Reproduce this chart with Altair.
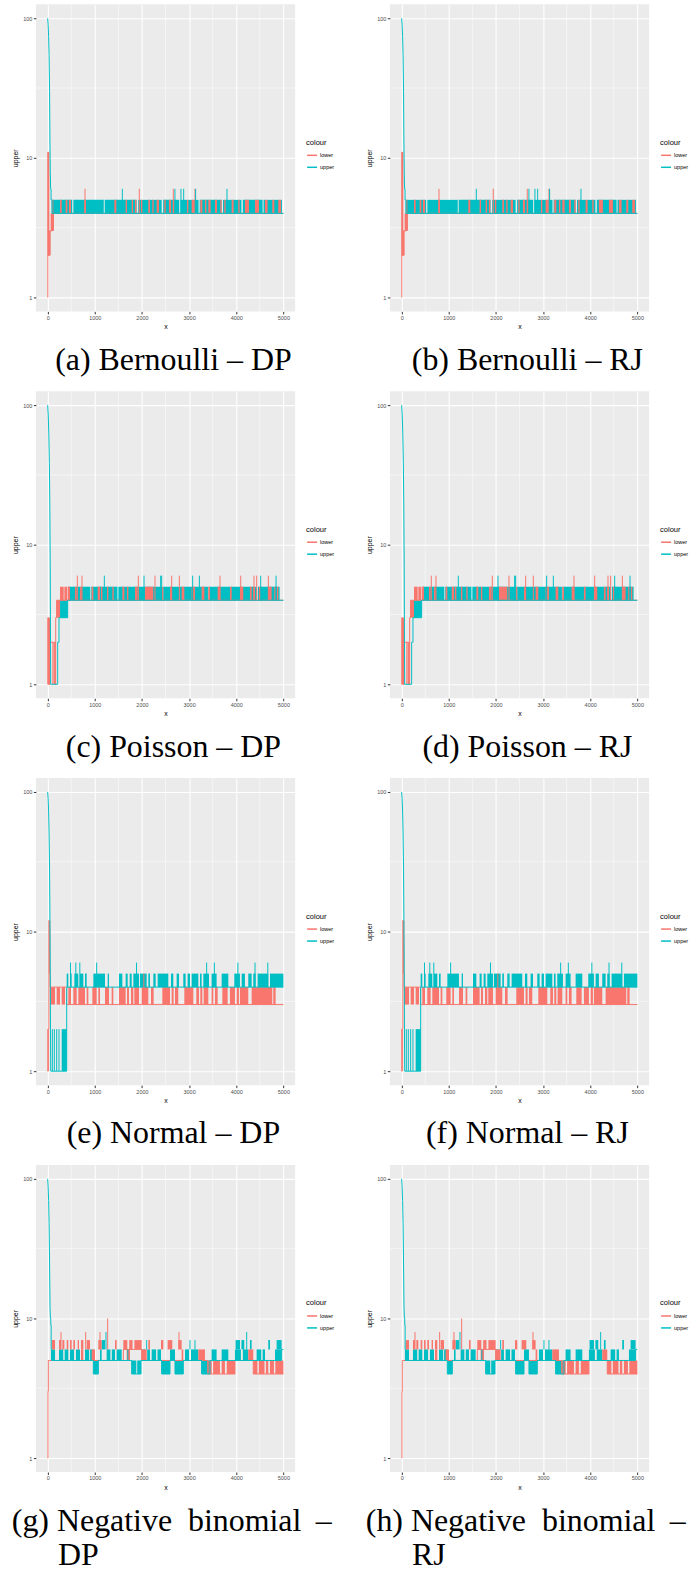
import altair as alt
import pandas as pd

LOWER_COLOR = "#F8766D"
UPPER_COLOR = "#00BFC4"
X_TICKS = [0, 1000, 2000, 3000, 4000, 5000]
X_MINOR = [500, 1500, 2500, 3500, 4500]
Y_TICKS = [1, 10, 100]
Y_MINOR = [3.1623, 31.623]

# ---------------- Bernoulli ----------------
bern_lower_line = [(0, 1), (3, 1), (3, 11), (14, 11), (14, 2), (40, 2), (40, 3), (100, 3), (100, 4), (5000, 4)]
bern_upper_line = [(0, 100), (10, 90), (20, 74), (30, 54), (40, 30), (48, 13), (55, 8), (62, 6), (72, 6), (72, 5),
                   (90, 5), (90, 4), (5000, 4)]
bern_lower_bands = [(3, 35, 2, 11), (14, 63, 2, 3), (63, 134, 3, 4),
                    (99, 120, 4, 5), (262, 297, 4, 5), (382, 417, 4, 5), (452, 495, 4, 5), (778, 813, 4, 5),
                    (1414, 1456, 4, 5), (1654, 1683, 4, 5), (1782, 1810, 4, 5), (1852, 1881, 4, 5),
                    (1980, 2008, 4, 5), (2135, 2170, 4, 5), (2220, 2248, 4, 5), (2312, 2361, 4, 5),
                    (2475, 2503, 4, 5), (2573, 2616, 4, 5), (2658, 2687, 4, 5), (2955, 2984, 4, 5),
                    (3054, 3111, 4, 5), (3238, 3281, 4, 5), (3337, 3366, 4, 5), (3408, 3457, 4, 5),
                    (3549, 3592, 4, 5), (3662, 3691, 4, 5), (3747, 3775, 4, 5), (3903, 3945, 4, 5),
                    (4044, 4072, 4, 5), (4185, 4270, 4, 5), (4398, 4482, 4, 5), (4610, 4666, 4, 5),
                    (4765, 4808, 4, 5), (4892, 4949, 4, 5)]
bern_upper_bands = [(90, 520, 4, 5), (545, 1190, 4, 5), (1210, 1888, 4, 5), (1920, 2418, 4, 5),
                    (2450, 2790, 4, 5), (2815, 3200, 4, 5), (3225, 3690, 4, 5), (3720, 4110, 4, 5),
                    (4140, 4560, 4, 5), (4580, 4970, 4, 5)]
bern_lower_spikes = [(792, 4, 6), (1944, 4, 6), (2665, 4, 6), (3125, 4, 6)]
bern_upper_spikes = [(1584, 4, 6), (2700, 4, 6), (2828, 4, 6), (2885, 4, 6), (3139, 4, 6), (3804, 4, 6)]

# ---------------- Poisson ----------------
pois_lower_line = [(0, 1), (4, 1), (4, 3), (20, 3), (20, 1), (50, 1), (50, 2), (150, 2), (150, 1), (170, 1),
                   (170, 3), (190, 3), (190, 4), (5000, 4)]
pois_upper_line = [(0, 100), (12, 85), (24, 62), (36, 38), (46, 18), (54, 7), (60, 2), (64, 1), (212, 1),
                   (212, 2), (240, 2), (240, 3), (424, 3), (424, 4), (5000, 4)]
pois_lower_bands = [(0, 50, 1, 3), (99, 127, 1, 2), (141, 170, 1, 2), (184, 262, 3, 4),
                    (262, 340, 4, 5), (354, 417, 4, 5), (430, 474, 4, 5), (580, 615, 4, 5), (686, 721, 4, 5),
                    (933, 969, 4, 5), (1061, 1110, 4, 5), (1131, 1160, 4, 5), (1258, 1287, 4, 5),
                    (1372, 1400, 4, 5), (1584, 1626, 4, 5), (1683, 1711, 4, 5), (1852, 1909, 4, 5),
                    (2064, 2241, 4, 5), (2418, 2453, 4, 5), (2595, 2630, 4, 5), (2842, 2899, 4, 5),
                    (3054, 3125, 4, 5), (3266, 3323, 4, 5), (3408, 3443, 4, 5), (3606, 3662, 4, 5),
                    (3867, 3903, 4, 5), (4079, 4150, 4, 5), (4291, 4327, 4, 5), (4362, 4398, 4, 5),
                    (4482, 4525, 4, 5), (4680, 4751, 4, 5), (4808, 4836, 4, 5), (4865, 4893, 4, 5)]
pois_upper_bands = [(262, 424, 3, 4), (438, 905, 4, 5), (925, 1480, 4, 5), (1500, 2430, 4, 5),
                    (2450, 3400, 4, 5), (3415, 4440, 4, 5), (4460, 4920, 4, 5)]
pois_lower_spikes = [(629, 4, 6), (728, 4, 6), (1923, 4, 6), (2277, 4, 6), (2631, 4, 6), (2793, 4, 6),
                     (3656, 4, 6), (4095, 4, 6), (4378, 4, 6), (4434, 4, 6), (4682, 4, 6)]
pois_upper_spikes = [(1202, 4, 6), (2044, 4, 6), (2397, 4, 6), (2418, 4, 6), (3076, 4, 6), (3218, 4, 6),
                     (4519, 4, 6), (4845, 4, 6)]

# ---------------- Normal ----------------
norm_lower_line = [(0, 1), (4, 1), (4, 2), (25, 2), (25, 12), (45, 12), (45, 5), (52, 5), (52, 4), (403, 4),
                   (403, 3), (5000, 3)]
norm_upper_line = [(0, 100), (10, 90), (20, 72), (30, 50), (40, 28), (48, 12), (55, 5), (60, 2), (65, 1),
                   (403, 1), (403, 4), (5000, 4)]
norm_lower_bands = [(0, 25, 1, 2), (25, 45, 5, 12),
                    (49, 156, 3, 4), (191, 262, 3, 4), (297, 368, 3, 4), (438, 495, 3, 4), (544, 615, 3, 4),
                    (650, 792, 3, 4), (827, 863, 3, 4), (947, 1039, 3, 4), (1075, 1110, 3, 4),
                    (1216, 1301, 3, 4), (1357, 1393, 3, 4), (1513, 1654, 3, 4), (1683, 1725, 3, 4),
                    (1768, 1817, 3, 4), (1838, 1937, 3, 4), (1994, 2135, 3, 4), (2192, 2248, 3, 4),
                    (2432, 2595, 3, 4), (2630, 2672, 3, 4), (2701, 2771, 3, 4), (2899, 3090, 3, 4),
                    (3153, 3210, 3, 4), (3238, 3281, 3, 4), (3309, 3408, 3, 4), (3478, 3514, 3, 4),
                    (3549, 3606, 3, 4), (3705, 3818, 3, 4), (3867, 3973, 3, 4), (4009, 4058, 3, 4),
                    (4079, 4256, 3, 4), (4327, 4765, 3, 4), (4786, 4836, 3, 4)]
norm_upper_bands = [(297, 403, 1, 2),
                    (403, 438, 4, 5), (474, 509, 4, 5), (566, 650, 4, 5), (686, 756, 4, 5), (792, 827, 4, 5),
                    (969, 1216, 4, 5), (1273, 1301, 4, 5), (1513, 1584, 4, 5), (1654, 1697, 4, 5),
                    (1739, 1782, 4, 5), (1817, 1937, 4, 5), (1958, 2100, 4, 5), (2135, 2170, 4, 5),
                    (2241, 2291, 4, 5), (2333, 2559, 4, 5), (2616, 2665, 4, 5), (2736, 2786, 4, 5),
                    (2877, 2927, 4, 5), (2969, 3019, 4, 5), (3054, 3196, 4, 5), (3231, 3266, 4, 5),
                    (3302, 3422, 4, 5), (3478, 3584, 4, 5), (3691, 3832, 4, 5), (3959, 4079, 4, 5),
                    (4115, 4185, 4, 5), (4256, 4327, 4, 5), (4362, 4412, 4, 5), (4454, 4680, 4, 5),
                    (4716, 5000, 4, 5)]
norm_lower_spikes = [(2040, 3, 5)]
norm_upper_spikes = [(99, 1, 2), (141, 1, 2), (191, 1, 2), (240, 1, 2), (485, 4, 6), (597, 4, 6), (682, 4, 6),
                     (1039, 4, 6), (1885, 4, 6), (3373, 4, 6), (3536, 4, 6), (4035, 4, 6), (4399, 4, 6),
                     (4670, 4, 6)]

# ---------------- Negative binomial ----------------
nb_lower_line = [(0, 1), (6, 1), (6, 3), (14, 3), (14, 5), (1605, 5), (1605, 6), (1994, 6), (1994, 5),
                 (3394, 5), (3394, 4), (3973, 4), (3973, 5), (4362, 5), (4362, 4), (5000, 4)]
nb_upper_line = [(0, 100), (10, 88), (20, 70), (30, 48), (40, 25), (50, 12), (58, 10), (66, 10), (66, 9),
                 (74, 9), (74, 6), (80, 6), (80, 5), (969, 5), (969, 4), (1075, 4), (1075, 5), (1782, 5),
                 (1782, 4), (1980, 4), (1980, 5), (2418, 5), (2418, 4), (2595, 4), (2595, 5), (2701, 5),
                 (2701, 4), (2877, 4), (2877, 5), (3266, 5), (3266, 4), (3443, 4), (3443, 5), (4963, 5),
                 (4963, 6), (5000, 6)]
nb_lower_bands = [(85, 156, 6, 7), (240, 283, 6, 7), (311, 354, 6, 7), (403, 438, 6, 7), (474, 509, 6, 7),
                  (544, 580, 6, 7), (636, 665, 6, 7), (707, 756, 6, 7), (827, 898, 6, 7), (1075, 1145, 6, 7),
                  (1428, 1463, 6, 7), (1605, 1690, 6, 7), (1730, 1800, 6, 7), (1840, 1994, 6, 7),
                  (2135, 2170, 6, 7), (2404, 2453, 6, 7), (2545, 2644, 6, 7), (2771, 2842, 6, 7),
                  (707, 756, 5, 6), (933, 1004, 5, 6), (1676, 1746, 5, 6), (1994, 2100, 5, 6),
                  (2842, 2877, 5, 6), (3196, 3337, 5, 6), (4256, 4362, 5, 6),
                  (3408, 3480, 4, 5), (3510, 3655, 4, 5), (3691, 3760, 4, 5), (3800, 3973, 4, 5),
                  (4362, 4450, 4, 5), (4480, 4600, 4, 5), (4630, 4680, 4, 5), (4716, 4800, 4, 5),
                  (4830, 5000, 4, 5)]
nb_upper_bands = [(71, 156, 5, 6), (240, 330, 5, 6), (360, 438, 5, 6), (474, 560, 5, 6), (600, 686, 5, 6),
                  (792, 880, 5, 6), (900, 969, 5, 6), (1110, 1145, 5, 6), (1251, 1330, 5, 6),
                  (1360, 1428, 5, 6), (1463, 1570, 5, 6), (1994, 2080, 5, 6), (2110, 2170, 5, 6),
                  (2206, 2300, 5, 6), (2330, 2404, 5, 6), (2595, 2701, 5, 6), (2913, 3000, 5, 6),
                  (3040, 3196, 5, 6), (3478, 3584, 5, 6), (3691, 3832, 5, 6), (3973, 4100, 5, 6),
                  (4140, 4256, 5, 6), (4433, 4530, 5, 6), (4560, 4610, 5, 6), (4822, 4963, 5, 6),
                  (969, 1075, 4, 5), (1782, 1880, 4, 5), (1900, 1980, 4, 5), (2418, 2595, 4, 5),
                  (2701, 2877, 4, 5), (3266, 3443, 4, 5),
                  (1145, 1216, 6, 7), (3987, 4080, 6, 7), (4110, 4171, 6, 7), (4291, 4327, 6, 7),
                  (4680, 4716, 6, 7), (4857, 4963, 6, 7)]
nb_lower_spikes = [(283, 6, 8), (806, 6, 8), (1110, 6, 8), (1273, 6, 10), (2786, 6, 8)]
nb_upper_spikes = [(1237, 6, 8), (4222, 6, 8), (3019, 6, 7), (3125, 6, 7), (2100, 6, 7), (1700, 5, 6)]

CAPTIONS = ["(a) Bernoulli – DP", "(b) Bernoulli – RJ", "(c) Poisson – DP", "(d) Poisson – RJ",
            "(e) Normal – DP", "(f) Normal – RJ"]
NBSP = "\u00a0"
THIN = "\u2009"
ZW = "\u200b"
CAPTION_G = ["(g)" + NBSP + "Negative" + NBSP * 2 + "binomial" + NBSP + THIN + "–", ZW + NBSP * 5 + THIN + "DP"]
CAPTION_H = ["(h)" + NBSP + "Negative" + NBSP * 2 + "binomial" + NBSP + THIN + "–", ZW + NBSP * 5 + THIN + "RJ"]

XS = alt.Scale(domain=[-250, 5250], nice=False, zero=False)
YS = alt.Scale(type="log", domain=[0.7943, 125.89], nice=False)

AX_COMMON = dict(grid=True, gridColor="white", gridWidth=1.1, domain=False, tickColor="#333333",
                 tickSize=2.5, labelFontSize=5.5, labelColor="#4D4D4D", labelPadding=1.5,
                 titleFontSize=7, titleFontWeight="normal", titleColor="black", labelFont="Liberation Sans",
                 titleFont="Liberation Sans")
XAXIS = alt.Axis(values=X_TICKS, format="d", titlePadding=2, **AX_COMMON)
YAXIS = alt.Axis(values=Y_TICKS, format="d", titlePadding=4, **AX_COMMON)


def X(f):
    return alt.X(f, type="quantitative", scale=XS, title="x", axis=XAXIS)


def Y(f):
    return alt.Y(f, type="quantitative", scale=YS, title="upper", axis=YAXIS)


def line_df(lower, upper):
    rows = []
    for name, pts in (("lower", lower), ("upper", upper)):
        for i, (x, y) in enumerate(pts):
            rows.append({"x": x, "y": y, "series": name, "i": i})
    return pd.DataFrame(rows)


def band_df(bands):
    return pd.DataFrame(bands, columns=["x0", "x1", "lo", "hi"])


def spike_df(spikes):
    return pd.DataFrame(spikes, columns=["x", "lo", "hi"])


def panel(lower_line, upper_line, lower_bands, upper_bands, lower_spikes, upper_spikes, caption, multi=False):
    minor_x = alt.Chart(pd.DataFrame({"x": X_MINOR})).mark_rule(color="white", strokeWidth=0.5).encode(x=X("x"))
    minor_y = alt.Chart(pd.DataFrame({"y": Y_MINOR})).mark_rule(color="white", strokeWidth=0.5).encode(y=Y("y"))
    ub = alt.Chart(band_df(upper_bands)).mark_rect(color=UPPER_COLOR).encode(
        x=X("x0"), x2="x1", y=Y("lo"), y2="hi")
    lb = alt.Chart(band_df(lower_bands)).mark_rect(color=LOWER_COLOR).encode(
        x=X("x0"), x2="x1", y=Y("lo"), y2="hi")
    lines = alt.Chart(line_df(lower_line, upper_line)).mark_line(strokeWidth=1).encode(
        x=X("x"), y=Y("y"), order="i:Q",
        color=alt.Color("series:N", scale=alt.Scale(domain=["lower", "upper"], range=[LOWER_COLOR, UPPER_COLOR]),
                        legend=alt.Legend(title="colour", orient="none", legendX=271, legendY=135,
                                          titleFontSize=7.5, titleFontWeight="normal", titleColor="black",
                                          titleFont="Liberation Sans", labelFont="Liberation Sans",
                                          labelFontSize=5.5, labelColor="black", symbolType="stroke",
                                          symbolSize=100, symbolStrokeWidth=1.5, titlePadding=3,
                                          labelOffset=2, rowPadding=2)))
    ls = alt.Chart(spike_df(lower_spikes)).mark_rule(color=LOWER_COLOR, strokeWidth=1).encode(
        x=X("x"), y=Y("lo"), y2="hi")
    us = alt.Chart(spike_df(upper_spikes)).mark_rule(color=UPPER_COLOR, strokeWidth=1).encode(
        x=X("x"), y=Y("lo"), y2="hi")
    if multi:
        title = alt.TitleParams(text=caption, orient="bottom", anchor="start", align="left", frame="bounds",
                                offset=16, fontSize=32, font="Liberation Serif", fontWeight="normal",
                                color="black", lineHeight=34)
    else:
        title = alt.TitleParams(text=caption, orient="bottom", anchor="middle", frame="bounds",
                                offset=15, fontSize=32, font="Liberation Serif", fontWeight="normal",
                                color="black")
    return alt.layer(minor_x, minor_y, ub, lb, lines, ls, us).properties(
        width=260, height=308, title=title,
        view=alt.ViewBackground(fill="#EBEBEB", stroke=None, strokeWidth=0))


panels = []
datasets = [
    (bern_lower_line, bern_upper_line, bern_lower_bands, bern_upper_bands, bern_lower_spikes, bern_upper_spikes),
    (pois_lower_line, pois_upper_line, pois_lower_bands, pois_upper_bands, pois_lower_spikes, pois_upper_spikes),
    (norm_lower_line, norm_upper_line, norm_lower_bands, norm_upper_bands, norm_lower_spikes, norm_upper_spikes),
]
for k, d in enumerate(datasets):
    panels.append(panel(*d, CAPTIONS[2 * k]))
    panels.append(panel(*d, CAPTIONS[2 * k + 1]))
nb = (nb_lower_line, nb_upper_line, nb_lower_bands, nb_upper_bands, nb_lower_spikes, nb_upper_spikes)
panels.append(panel(*nb, CAPTION_G, multi=True))
panels.append(panel(*nb, CAPTION_H, multi=True))

chart = alt.concat(*panels, columns=2, spacing={"row": 14, "column": 30}).resolve_scale(
    color="independent").resolve_legend(color="independent").properties(
    padding={"left": 11, "top": 1, "right": 0, "bottom": 0}
).configure_view(fill="#EBEBEB", strokeWidth=0).configure(background="white")

chart.save("out.html", embed_options={"renderer": "svg", "actions": False})
